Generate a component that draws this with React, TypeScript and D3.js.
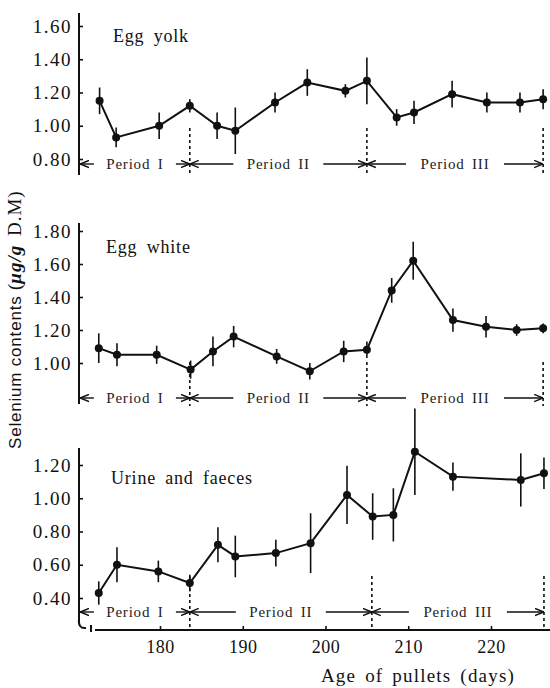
import * as d3 from "d3";
import React, {useRef, useEffect} from "react";

// age of pullets (days) and selenium contents (ug/g D.M), mean and error bar half-length
const yolkDays = [172.7, 174.7, 179.9, 183.6, 186.9, 189.1, 193.9, 197.8, 202.4, 205.0, 208.6, 210.7, 215.3, 219.5, 223.5, 226.3];
const yolkMean = [1.15, 0.93, 1.00, 1.12, 1.00, 0.97, 1.14, 1.26, 1.21, 1.27, 1.05, 1.08, 1.19, 1.14, 1.14, 1.16];
const yolkErr = [0.08, 0.06, 0.08, 0.04, 0.08, 0.14, 0.06, 0.08, 0.04, 0.14, 0.05, 0.07, 0.08, 0.06, 0.06, 0.06];

const whiteDays = [172.6, 174.8, 179.6, 183.7, 186.4, 188.9, 194.1, 198.1, 202.2, 205.0, 208.0, 210.6, 215.4, 219.4, 223.1, 226.3];
const whiteMean = [1.09, 1.05, 1.05, 0.96, 1.07, 1.16, 1.04, 0.95, 1.07, 1.08, 1.44, 1.62, 1.26, 1.22, 1.20, 1.21];
const whiteErr = [0.09, 0.07, 0.055, 0.055, 0.09, 0.065, 0.045, 0.05, 0.065, 0.05, 0.075, 0.115, 0.07, 0.065, 0.035, 0.03];

const urineDays = [172.6, 174.8, 179.8, 183.6, 187.0, 189.1, 194.0, 198.2, 202.6, 205.7, 208.2, 210.8, 215.4, 223.6, 226.4];
const urineMean = [0.43, 0.60, 0.56, 0.49, 0.72, 0.65, 0.67, 0.73, 1.02, 0.89, 0.90, 1.28, 1.13, 1.11, 1.15];
const urineErr = [0.07, 0.105, 0.065, 0.05, 0.105, 0.125, 0.08, 0.18, 0.175, 0.14, 0.16, 0.26, 0.085, 0.16, 0.095];

// period boundaries (days)
const yolkBounds = [170.3, 183.6, 205.0, 226.3];
const whiteBounds = [170.3, 183.6, 205.0, 226.3];
const urineBounds = [170.3, 183.6, 205.6, 226.4];

const yolkTicks = [0.8, 1.0, 1.2, 1.4, 1.6];
const whiteTicks = [1.0, 1.2, 1.4, 1.6, 1.8];
const urineTicks = [0.4, 0.6, 0.8, 1.0, 1.2];
const dayTicks = [180, 190, 200, 210, 220];
const periodNames = ["Period I", "Period II", "Period III"];

const serif = "Liberation Serif, DejaVu Serif, serif";
const sans = "Liberation Sans, DejaVu Sans, sans-serif";

function App() {

    const ref = useRef();

    useEffect(() => {

        const svg = d3.select(ref.current);
        svg.selectAll("*").remove();

        const x = d3.scaleLinear().domain([180, 220]).range([160, 491]);
        const axisX = 79;

        const panels = [
            {title: "Egg yolk", days: yolkDays, mean: yolkMean, err: yolkErr, ticks: yolkTicks, bounds: yolkBounds,
                domain: [0.8, 1.6], range: [159, 26], top: 13, bottom: 175, rowY: 164, titleX: 113, titleY: 42, dotEnd: 176},
            {title: "Egg white", days: whiteDays, mean: whiteMean, err: whiteErr, ticks: whiteTicks, bounds: whiteBounds,
                domain: [1.0, 1.8], range: [363, 231], top: 223, bottom: 404, rowY: 398, titleX: 106, titleY: 253, dotEnd: 406},
            {title: "Urine and faeces", days: urineDays, mean: urineMean, err: urineErr, ticks: urineTicks, bounds: urineBounds,
                domain: [0.4, 1.2], range: [598, 465], top: 448, bottom: 619, rowY: 612, titleX: 111, titleY: 484, dotEnd: 630},
        ];

        svg.append("defs").append("marker")
            .attr("id", "arrowHead")
            .attr("viewBox", "0 0 10 10")
            .attr("refX", 10).attr("refY", 5)
            .attr("markerWidth", 9).attr("markerHeight", 9)
            .attr("markerUnits", "userSpaceOnUse")
            .attr("orient", "auto-start-reverse")
            .append("path")
            .attr("d", "M0,1 L10,5 L0,9")
            .attr("fill", "none")
            .attr("stroke", "#111")
            .attr("stroke-width", 1.6);

        panels.forEach(p => {
            const y = d3.scaleLinear().domain(p.domain).range(p.range);
            const g = svg.append("g");

            // y axis line
            g.append("line")
                .attr("x1", axisX).attr("x2", axisX)
                .attr("y1", p.top).attr("y2", p.bottom)
                .attr("stroke", "#111").attr("stroke-width", 2);

            const yAxis = d3.axisLeft(y)
                .tickValues(p.ticks)
                .tickSize(-4)
                .tickPadding(7)
                .tickFormat(d3.format(".2f"));

            const ag = g.append("g")
                .attr("transform", `translate(${axisX},0)`)
                .call(yAxis);
            ag.select(".domain").remove();
            ag.attr("font-family", serif).attr("font-size", 19);
            ag.selectAll(".tick line").attr("stroke", "#111").attr("stroke-width", 1.6);
            ag.selectAll(".tick text")
                .attr("fill", "#111")
                .attr("font-family", serif)
                .attr("letter-spacing", 1.5);

            g.append("text")
                .text(p.title)
                .attr("x", p.titleX)
                .attr("y", p.titleY)
                .attr("fill", "#111")
                .attr("font-family", serif)
                .attr("font-size", 18)
                .attr("letter-spacing", 0.8)
                .attr("word-spacing", 4);

            // dotted boundaries
            p.bounds.slice(1).forEach(b => {
                g.append("line")
                    .attr("x1", x(b)).attr("x2", x(b))
                    .attr("y1", p.rowY - 36).attr("y2", p.dotEnd)
                    .attr("stroke", "#111")
                    .attr("stroke-width", 1.6)
                    .attr("stroke-dasharray", "3,3");
            });

            // period arrows
            periodNames.forEach((name, i) => {
                const x0 = i === 0 ? axisX + 1 : x(p.bounds[i]);
                const x1 = x(p.bounds[i + 1]);
                const mid = (x0 + x1) / 2;
                const half = name.length * 4 + 9;
                g.append("line")
                    .attr("x1", mid - half).attr("x2", x0)
                    .attr("y1", p.rowY).attr("y2", p.rowY)
                    .attr("stroke", "#111").attr("stroke-width", 1.4)
                    .attr("marker-end", "url(#arrowHead)");
                g.append("line")
                    .attr("x1", mid + half).attr("x2", x1)
                    .attr("y1", p.rowY).attr("y2", p.rowY)
                    .attr("stroke", "#111").attr("stroke-width", 1.4)
                    .attr("marker-end", "url(#arrowHead)");
                g.append("text")
                    .text(name)
                    .attr("x", mid)
                    .attr("y", p.rowY)
                    .attr("dy", "0.35em")
                    .attr("text-anchor", "middle")
                    .attr("fill", "#222")
                    .attr("font-family", serif)
                    .attr("font-size", 15)
                    .attr("letter-spacing", 0.8)
                    .attr("word-spacing", 3);
            });

            const pts = p.days.map((d, i) => ({day: d, mean: p.mean[i], err: p.err[i]}));

            g.selectAll(".errBar")
                .data(pts)
                .enter()
                .append("line")
                .attr("class", "errBar")
                .attr("x1", d => x(d.day)).attr("x2", d => x(d.day))
                .attr("y1", d => y(d.mean - d.err))
                .attr("y2", d => y(d.mean + d.err))
                .attr("stroke", "#111")
                .attr("stroke-width", 1.6);

            const line = d3.line()
                .x(d => x(d.day))
                .y(d => y(d.mean));

            g.append("path")
                .datum(pts)
                .attr("d", line)
                .attr("fill", "none")
                .attr("stroke", "#111")
                .attr("stroke-width", 2);

            g.selectAll(".dot")
                .data(pts)
                .enter()
                .append("circle")
                .attr("class", "dot")
                .attr("cx", d => x(d.day))
                .attr("cy", d => y(d.mean))
                .attr("r", 4)
                .attr("fill", "#111");
        });

        // x axis with broken start
        const xAxisY = 630;
        const xg = svg.append("g").attr("transform", `translate(0,${xAxisY})`);
        xg.append("line")
            .attr("x1", 95).attr("x2", 550)
            .attr("y1", 0).attr("y2", 0)
            .attr("stroke", "#111").attr("stroke-width", 2);
        const xAxis = d3.axisBottom(x)
            .tickValues(dayTicks)
            .tickSize(-4)
            .tickPadding(10)
            .tickFormat(d3.format("d"));
        xg.call(xAxis);
        xg.select(".domain").remove();
        xg.attr("font-family", serif).attr("font-size", 18);
        xg.selectAll(".tick line").attr("stroke", "#111").attr("stroke-width", 1.6);
        xg.selectAll(".tick text").attr("fill", "#111").attr("letter-spacing", 0.5);

        svg.append("path")
            .attr("d", `M${axisX},619 Q${axisX - 1},629 ${axisX + 7},628 M91,625 L91,632`)
            .attr("fill", "none")
            .attr("stroke", "#111")
            .attr("stroke-width", 2);

        svg.append("text")
            .text("Age of pullets (days)")
            .attr("x", 418)
            .attr("y", 682)
            .attr("text-anchor", "middle")
            .attr("fill", "#111")
            .attr("font-family", serif)
            .attr("font-size", 19)
            .attr("letter-spacing", 1.2)
            .attr("word-spacing", 3);

        const yTitle = svg.append("text")
            .attr("transform", "translate(21,449) rotate(-90)")
            .attr("fill", "#111");
        yTitle.append("tspan")
            .text("Selenium contents ")
            .attr("font-family", sans)
            .attr("font-size", 17)
            .attr("letter-spacing", 0.8);
        yTitle.append("tspan")
            .text("(")
            .attr("font-family", serif)
            .attr("font-size", 19);
        yTitle.append("tspan")
            .text("μg/g")
            .attr("font-family", serif)
            .attr("font-size", 19)
            .attr("font-style", "italic")
            .attr("font-weight", "bold")
            .attr("letter-spacing", 1);
        yTitle.append("tspan")
            .text(" D.M)")
            .attr("font-family", serif)
            .attr("font-size", 19)
            .attr("letter-spacing", 1)
            .attr("word-spacing", 3);

    }, []);

    return (
        <svg ref={ref} width={550} height={688}
             style={{position: "absolute", left: 0, top: 0, background: "#fff"}} />
    );
}

export default App;
